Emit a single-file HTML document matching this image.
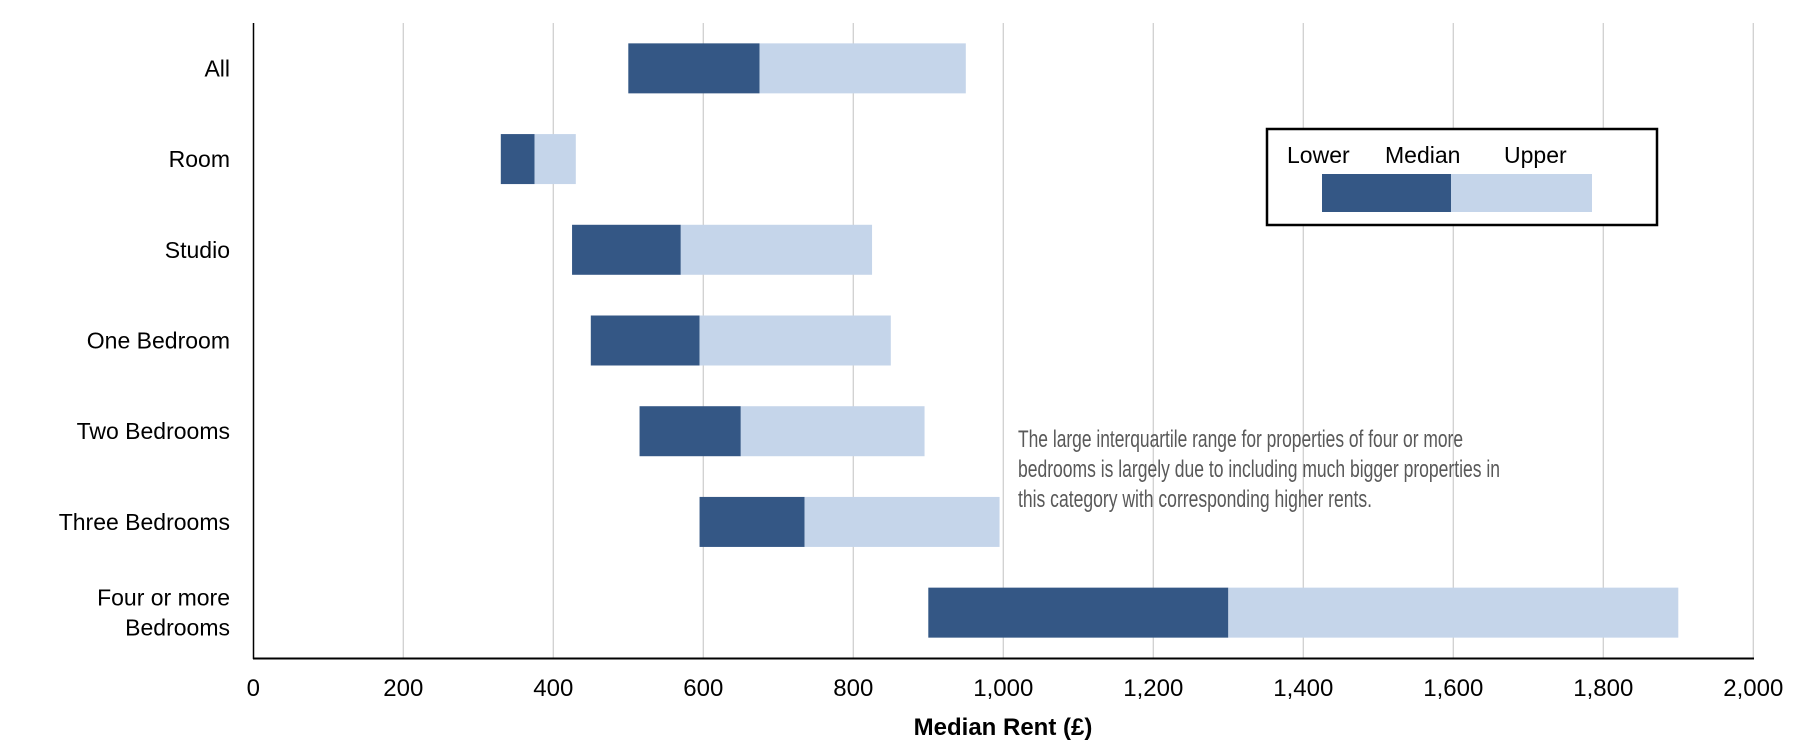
<!DOCTYPE html>
<html><head><meta charset="utf-8"><style>
html,body{margin:0;padding:0;background:#fff;}
svg{display:block;font-family:"Liberation Sans",Arial,sans-serif;}
</style></head><body>
<svg id="chart" width="1814" height="756" viewBox="0 0 1814 756" xmlns="http://www.w3.org/2000/svg">
<g id="grid"></g>
<g id="bars"></g>
<g id="ylabels"></g>
<g id="xlabels"></g>
<line x1="253.5" y1="23" x2="253.5" y2="659" stroke="#000" stroke-width="1.5"/>
<line x1="253" y1="658.5" x2="1754" y2="658.5" stroke="#000" stroke-width="2"/>
<text x="1003" y="735" text-anchor="middle" font-size="24" font-weight="bold" fill="#000">Median Rent (£)</text>
<g>
<rect x="1267" y="129" width="390" height="96" fill="#fff" stroke="#000" stroke-width="2.5"/>
<text x="1287" y="163" font-size="23" fill="#000">Lower</text>
<text x="1385" y="163" font-size="23" fill="#000">Median</text>
<text x="1504" y="163" font-size="23" fill="#000">Upper</text>
<rect x="1322" y="174" width="129" height="38" fill="#345785"/>
<rect x="1451" y="174" width="141" height="38" fill="#c5d5ea"/>
</g>
<g font-size="24" fill="#595959">
<text x="1018" y="447" textLength="445" lengthAdjust="spacingAndGlyphs">The large interquartile range for properties of four or more</text>
<text x="1018" y="477" textLength="482" lengthAdjust="spacingAndGlyphs">bedrooms is largely due to including much bigger properties in</text>
<text x="1018" y="507" textLength="354" lengthAdjust="spacingAndGlyphs">this category with corresponding higher rents.</text>
</g>
</svg>
<script>
const categories = [["All"],["Room"],["Studio"],["One Bedroom"],["Two Bedrooms"],["Three Bedrooms"],["Four or more","Bedrooms"]];
const lowerValues = [500,330,425,450,515,595,900];
const medianValues = [675,375,570,595,650,735,1300];
const upperValues = [950,430,825,850,895,995,1900];
const xTicks = [0,200,400,600,800,1000,1200,1400,1600,1800,2000];
const xTickLabels = ["0","200","400","600","800","1,000","1,200","1,400","1,600","1,800","2,000"];

const NS="http://www.w3.org/2000/svg";
const X0=253.3, X1=1753.3, XMAX=2000, YT=23, YB=658;
const band=(YB-YT)/categories.length, barH=50;
function xs(v){return X0+(v/XMAX)*(X1-X0);}
function yc(i){return YT+band*(i+0.5);}
function mk(tag,attrs,parent){const e=document.createElementNS(NS,tag);for(const k in attrs)e.setAttribute(k,attrs[k]);parent.appendChild(e);return e;}
const grid=document.getElementById('grid'),bars=document.getElementById('bars'),yl=document.getElementById('ylabels'),xl=document.getElementById('xlabels');
xTicks.forEach((t,i)=>{
  if(t>0){const l=mk('line',{x1:xs(t),x2:xs(t),y1:YT,y2:YB,stroke:'#d0d0d0','stroke-width':1.3},grid);
  
  }
  const tx=mk('text',{x:xs(t),y:696,'text-anchor':'middle','font-size':24,fill:'#000'},xl);
  tx.textContent=xTickLabels[i];
  
  
});
categories.forEach((c,i)=>{
  const y=yc(i)-barH/2;
  const r1=mk('rect',{x:xs(lowerValues[i]),y:y,width:xs(medianValues[i])-xs(lowerValues[i]),height:barH,fill:'#345785'},bars);
  
  
  const r2=mk('rect',{x:xs(medianValues[i]),y:y,width:xs(upperValues[i])-xs(medianValues[i]),height:barH,fill:'#c5d5ea'},bars);
  
  
  const n=c.length;
  c.forEach((line,j)=>{
    const t=mk('text',{x:230,y:yc(i)+8+(j-(n-1)/2)*30,'text-anchor':'end','font-size':23,fill:'#000'},yl);
    t.textContent=line;
    
    
  });
});
</script>
</body></html>
